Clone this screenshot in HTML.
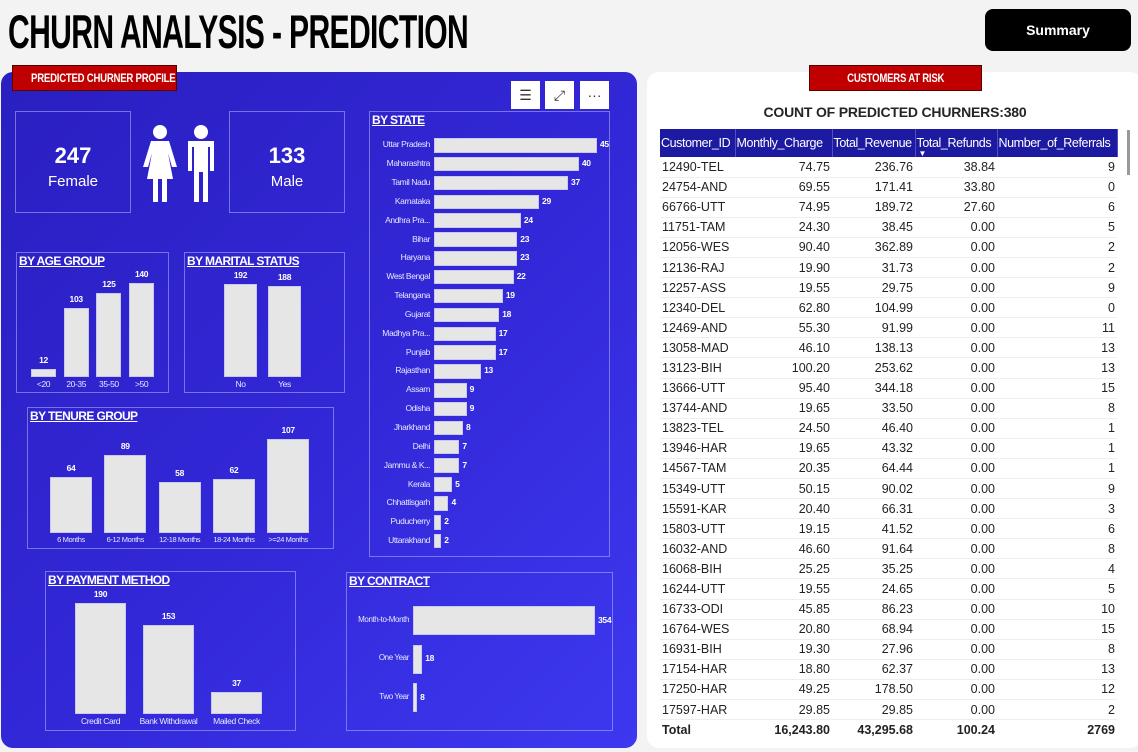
<!DOCTYPE html>
<html><head><meta charset="utf-8">
<style>
*{margin:0;padding:0;box-sizing:border-box}
body{width:1138px;height:752px;background:#f3f3f3;position:relative;overflow:hidden;font-family:"Liberation Sans",sans-serif}
.abs{position:absolute}
#left{left:1px;top:72px;width:636px;height:676px;border-radius:12px;background:linear-gradient(135deg,#2a1fc0 0%,#3227d6 50%,#3d38f0 100%)}
#right{left:647px;top:72px;width:495px;height:676px;border-radius:12px;background:#fff}
.redlbl{background:#c00000;border:1px solid #5a0000;color:#fff;font-weight:bold;font-size:12px;text-align:center;line-height:24px;height:26px;white-space:nowrap;overflow:hidden}
.redlbl span{display:inline-block;transform:scaleX(.8);letter-spacing:-.3px}
.box{border:1px solid rgba(180,180,255,.55)}
.ttl{color:#fff;font-weight:bold;font-size:12px;text-decoration:underline;position:absolute;left:2px;top:1px;letter-spacing:-.6px;white-space:nowrap}
.lbl{color:#e8e8ff;font-size:8.5px;position:absolute;white-space:nowrap;letter-spacing:-.4px}
.val{color:#fff;font-size:8.5px;font-weight:bold;position:absolute;white-space:nowrap;letter-spacing:-.3px}
.bar{background:#e6e6e6;position:absolute;border:1px solid #c8c8f0}
table{border-collapse:collapse;font-size:12.5px;color:#222;table-layout:fixed}
td{height:20.1px;padding:0 2px;border-bottom:1px solid #eee;text-align:right;white-space:nowrap;overflow:hidden}
td:first-child{text-align:left}
th{background:#1d1aa2;color:#fff;font-weight:normal;font-size:12.5px;height:28px;text-align:left;padding:0 1px;border-right:1px solid #5050c0;vertical-align:middle;white-space:nowrap;overflow:hidden;letter-spacing:-.4px}
.ibtn{background:#fff;width:29px;height:28px;top:81px;color:#333;text-align:center;line-height:28px;font-size:14px}
</style></head><body>
<div class="abs" style="left:8px;top:4px;font-size:47px;font-weight:bold;color:#000;letter-spacing:-1px;transform:scaleX(.64);transform-origin:left;white-space:nowrap">CHURN ANALYSIS - PREDICTION</div>
<div class="abs" style="left:985px;top:9px;width:146px;height:42px;background:#000;border-radius:8px;color:#fff;font-weight:bold;font-size:14px;text-align:center;line-height:42px">Summary</div>

<div id="left" class="abs"></div>
<div class="abs redlbl" style="left:12px;top:65px;width:165px"><span>PREDICTED CHURNER PROFILE</span></div>

<div class="abs ibtn" style="left:511px">☰</div>
<div class="abs ibtn" style="left:545px">⤢</div>
<div class="abs ibtn" style="left:580px">···</div>

<div class="abs box" style="left:15px;top:111px;width:116px;height:102px;color:#fff;text-align:center">
 <div style="font-size:22px;font-weight:bold;margin-top:31px">247</div><div style="font-size:15px;margin-top:4px">Female</div></div>
<div class="abs box" style="left:229px;top:111px;width:116px;height:102px;color:#fff;text-align:center">
 <div style="font-size:22px;font-weight:bold;margin-top:31px">133</div><div style="font-size:15px;margin-top:4px">Male</div></div>
<svg class="abs" style="left:140px;top:124px" width="80" height="78" viewBox="0 0 80 78">
 <g fill="#fff"><circle cx="20" cy="8" r="7"/><path d="M11 17h18l8 26h-5l-4-14 5 26h-6v23h-5v-23h-4v23h-5v-23h-6l5-26-4 14h-5z"/>
 <circle cx="61" cy="8" r="7"/><path d="M48 17h26v30h-4v-24h-2v55h-5v-30h-4v30h-5v-55h-2v24h-4z"/></g></svg>

<div class="abs box" style="left:16px;top:252px;width:153px;height:141px"><div class="ttl">BY AGE GROUP</div></div>
<div class="abs box" style="left:184px;top:252px;width:161px;height:141px"><div class="ttl">BY MARITAL STATUS</div></div>
<div class="abs box" style="left:369px;top:111px;width:241px;height:446px"><div class="ttl">BY STATE</div></div>
<div class="abs box" style="left:27px;top:407px;width:307px;height:142px"><div class="ttl">BY TENURE GROUP</div></div>
<div class="abs box" style="left:45px;top:571px;width:251px;height:160px"><div class="ttl">BY PAYMENT METHOD</div></div>
<div class="abs box" style="left:346px;top:572px;width:267px;height:159px"><div class="ttl">BY CONTRACT</div></div>
<div id="marks"></div>

<div id="right" class="abs"></div>
<div class="abs redlbl" style="left:809px;top:65px;width:173px"><span>CUSTOMERS AT RISK</span></div>
<div class="abs" style="left:660px;top:104px;width:470px;text-align:center;font-weight:bold;font-size:14px;color:#252525;letter-spacing:-.2px">COUNT OF PREDICTED CHURNERS:380</div>
<div class="abs" style="left:1127px;top:130px;width:3px;height:45px;background:#999"></div>
<table class="abs" style="left:660px;top:129px;width:457px">
<colgroup><col style="width:75px"><col style="width:97px"><col style="width:83px"><col style="width:82px"><col style="width:120px"></colgroup>
<thead><tr><th>Customer_ID</th><th>Monthly_Charge</th><th>Total_Revenue</th><th style="position:relative">Total_Refunds<span style="position:absolute;left:3px;bottom:-1px;font-size:8px">▼</span></th><th>Number_of_Referrals</th></tr></thead>
<tbody id="tb"></tbody></table>

<script>
// ---- chart data ----
const ageCats=["<20","20-35","35-50",">50"];
const ageVals=[12,103,125,140];
const maritalCats=["No","Yes"];
const maritalVals=[192,188];
const tenureCats=["6 Months","6-12 Months","12-18 Months","18-24 Months",">=24 Months"];
const tenureVals=[64,89,58,62,107];
const payCats=["Credit Card","Bank Withdrawal","Mailed Check"];
const payVals=[190,153,37];
const stateCats=["Uttar Pradesh","Maharashtra","Tamil Nadu","Karnataka","Andhra Pra...","Bihar","Haryana","West Bengal","Telangana","Gujarat","Madhya Pra...","Punjab","Rajasthan","Assam","Odisha","Jharkhand","Delhi","Jammu & K...","Kerala","Chhattisgarh","Puducherry","Uttarakhand"];
const stateVals=[45,40,37,29,24,23,23,22,19,18,17,17,13,9,9,8,7,7,5,4,2,2];
const contractCats=["Month-to-Month","One Year","Two Year"];
const contractVals=[354,18,8];
const rows=[["12490-TEL","74.75","236.76","38.84","9"],["24754-AND","69.55","171.41","33.80","0"],["66766-UTT","74.95","189.72","27.60","6"],["11751-TAM","24.30","38.45","0.00","5"],["12056-WES","90.40","362.89","0.00","2"],["12136-RAJ","19.90","31.73","0.00","2"],["12257-ASS","19.55","29.75","0.00","9"],["12340-DEL","62.80","104.99","0.00","0"],["12469-AND","55.30","91.99","0.00","11"],["13058-MAD","46.10","138.13","0.00","13"],["13123-BIH","100.20","253.62","0.00","13"],["13666-UTT","95.40","344.18","0.00","15"],["13744-AND","19.65","33.50","0.00","8"],["13823-TEL","24.50","46.40","0.00","1"],["13946-HAR","19.65","43.32","0.00","1"],["14567-TAM","20.35","64.44","0.00","1"],["15349-UTT","50.15","90.02","0.00","9"],["15591-KAR","20.40","66.31","0.00","3"],["15803-UTT","19.15","41.52","0.00","6"],["16032-AND","46.60","91.64","0.00","8"],["16068-BIH","25.25","35.25","0.00","4"],["16244-UTT","19.55","24.65","0.00","5"],["16733-ODI","45.85","86.23","0.00","10"],["16764-WES","20.80","68.94","0.00","15"],["16931-BIH","19.30","27.96","0.00","8"],["17154-HAR","18.80","62.37","0.00","13"],["17250-HAR","49.25","178.50","0.00","12"],["17597-HAR","29.85","29.85","0.00","2"]];
const totals=["Total","16,243.80","43,295.68","100.24","2769"];

const M=document.getElementById('marks');
function mk(cls,name,css,txt){const d=document.createElement('div');d.className=cls;


Object.assign(d.style,css);if(txt!==undefined)d.textContent=txt;M.appendChild(d);return d;}
function vchart(key,cats,vals,x0,step,bw,base,maxV,maxH,lfs){
 const y=v=>v/maxV*maxH;
 cats.forEach((c,i)=>{const x=x0+i*step,h=y(vals[i]);
  mk('bar',key+'-bar-'+i,{left:x+'px',top:(base-h)+'px',width:bw+'px',height:h+'px'});
  mk('val',key+'-value-'+i,{left:(x-10)+'px',width:(bw+20)+'px',textAlign:'center',top:(base-h-14)+'px'},vals[i]);
  mk('lbl',key+'-label-'+i,{left:(x-20)+'px',width:(bw+40)+'px',textAlign:'center',top:(base+2)+'px',fontSize:lfs+'px'},c);
 });}
function hchart(key,cats,vals,x0,y0,step,bh,maxV,maxW,lblW,fs){
 cats.forEach((c,i)=>{const y=y0+i*step,w=vals[i]/maxV*maxW;
  mk('bar',key+'-bar-'+i,{left:x0+'px',top:y+'px',width:w+'px',height:bh+'px'});
  mk('val',key+'-value-'+i,{left:(x0+w+3)+'px',top:(y+bh/2-6)+'px'},vals[i]);
  mk('lbl',key+'-label-'+i,{left:(x0-4-lblW)+'px',width:lblW+'px',textAlign:'right',top:(y+bh/2-6)+'px',fontSize:fs+'px'},c);
 });}
vchart('age',ageCats,ageVals,31,32.7,25,377,140,94,8.5);
vchart('marital',maritalCats,maritalVals,224,44,33,377,192,93,8.5);
vchart('tenure',tenureCats,tenureVals,50,54.3,42,533,107,94,7.5);
vchart('payment',payCats,payVals,75,68,51,714,190,111,8.5);
hchart('state',stateCats,stateVals,434,138,18.85,14.5,45,163,62,8.5);
hchart('contract',contractCats,contractVals,413,606,38.5,29,354,182,62,8);

const tb=document.getElementById('tb');
rows.forEach((r,i)=>{const tr=document.createElement('tr');
 
 
 r.forEach(v=>{const td=document.createElement('td');td.textContent=v;tr.appendChild(td);});tb.appendChild(tr);});
const tr=document.createElement('tr');


totals.forEach(v=>{const td=document.createElement('td');td.textContent=v;td.style.fontWeight='bold';td.style.borderBottom='none';tr.appendChild(td);});tb.appendChild(tr);
</script>
</body></html>
